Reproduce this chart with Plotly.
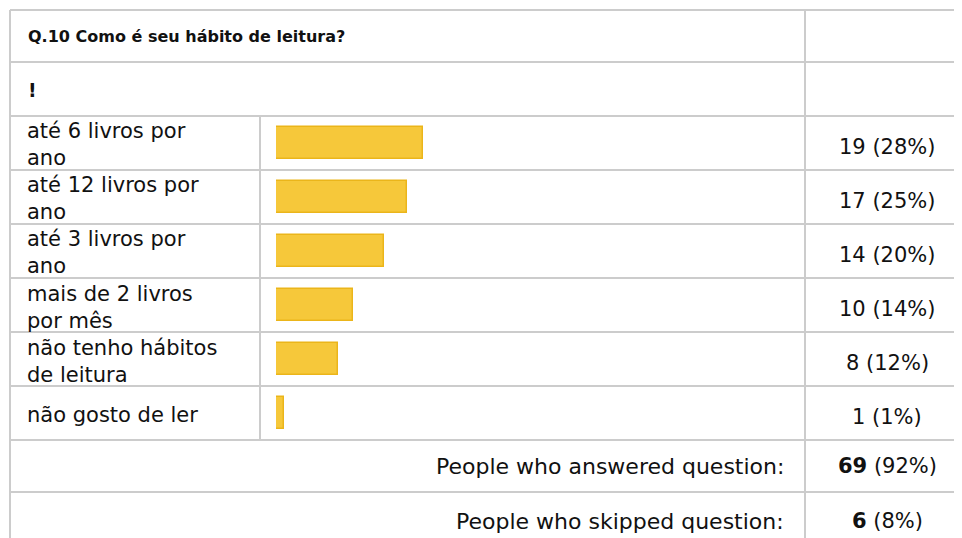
import textwrap
import plotly.graph_objects as go

# ---- data ----
title = "Q.10 Como é seu hábito de leitura?"
subtitle = "!"
categories = [
    "até 6 livros por ano",
    "até 12 livros por ano",
    "até 3 livros por ano",
    "mais de 2 livros por mês",
    "não tenho hábitos de leitura",
    "não gosto de ler",
]
counts = [19, 17, 14, 10, 8, 1]
percents = [28, 25, 20, 14, 12, 1]
answered_label = "People who answered question:"
answered_count = 69
answered_pct = 92
skipped_label = "People who skipped question:"
skipped_count = 6
skipped_pct = 8

# ---- layout helpers (page pixel -> paper); page body has an 8px margin ----
OFF = 8
W, H = 962 - OFF, 538 - OFF
def px(x):
    return (x - OFF) / W
def py(y):
    return 1 - (y - OFF) / H

FONT = "DejaVu Sans, Verdana, sans-serif"
GRID = "#CCCCCC"
TXT = "#111111"
FS = 21

row_top = 116
row_h = 54
n = len(categories)
rows_bottom = row_top + row_h * n

fig = go.Figure()
fig.add_trace(go.Bar(
    x=counts,
    y=categories,
    orientation="h",
    width=0.61,
    marker=dict(color="#F6C83A", line=dict(color="#EBB51A", width=1.5)),
    hoverinfo="skip",
    showlegend=False,
))

shapes = []
def hline(y, x0=10, x1=975):
    shapes.append(dict(type="line", xref="paper", yref="paper",
                       x0=px(x0), x1=px(x1), y0=py(y), y1=py(y),
                       line=dict(color=GRID, width=2), layer="below"))
def vline(x, y0, y1):
    shapes.append(dict(type="line", xref="paper", yref="paper",
                       x0=px(x), x1=px(x), y0=py(y0), y1=py(y1),
                       line=dict(color=GRID, width=2), layer="below"))

for y in [10, 62] + [row_top + row_h * i for i in range(n + 1)] + [492]:
    hline(y)
vline(10, 10, 545)
vline(805, 10, 545)
vline(260, row_top, rows_bottom)

annotations = []
annotations.append(dict(text="<b>" + title + "</b>", xref="paper", yref="paper",
                        x=px(26), y=py(37), xanchor="left", yanchor="middle",
                        showarrow=False, font=dict(family=FONT, size=16, color=TXT)))
annotations.append(dict(text="<b>" + subtitle + "</b>", xref="paper", yref="paper",
                        x=px(26), y=py(90), xanchor="left", yanchor="middle",
                        showarrow=False, font=dict(family=FONT, size=19, color=TXT)))
for cat, c, p in zip(categories, counts, percents):
    label = "<br>".join(textwrap.wrap(cat, 17))
    annotations.append(dict(text=label, xref="paper", yref="y",
                            x=px(25), y=cat, yshift=-2, xanchor="left", yanchor="middle",
                            align="left", showarrow=False,
                            font=dict(family=FONT, size=FS, color=TXT)))
    annotations.append(dict(text=f"{c} ({p}%)", xref="paper", yref="y",
                            x=px(887), y=cat, yshift=-4, xanchor="center",
                            yanchor="middle", showarrow=False,
                            font=dict(family=FONT, size=FS, color=TXT)))

for lab, cnt, pct, yc in [(answered_label, answered_count, answered_pct, 466),
                          (skipped_label, skipped_count, skipped_pct, 521)]:
    annotations.append(dict(text=lab, xref="paper", yref="paper",
                            x=px(786), y=py(yc), xanchor="right", yanchor="middle",
                            showarrow=False, font=dict(family=FONT, size=FS + 1, color=TXT)))
    annotations.append(dict(text=f"<b>{cnt}</b> ({pct}%)", xref="paper", yref="paper",
                            x=px(887), y=py(yc), xanchor="center", yanchor="middle",
                            showarrow=False, font=dict(family=FONT, size=FS, color=TXT)))

fig.update_layout(
    width=W, height=H,
    margin=dict(l=0, r=0, t=0, b=0),
    paper_bgcolor="white", plot_bgcolor="rgba(0,0,0,0)",
    shapes=shapes, annotations=annotations,
    bargap=0,
    xaxis=dict(domain=[px(276), px(809)], range=[0, answered_count],
               visible=False, fixedrange=True),
    yaxis=dict(domain=[py(rows_bottom), py(row_top)],
               range=[n - 0.5, -0.5], visible=False, fixedrange=True,
               categoryorder="array", categoryarray=categories),
)

fig.write_html("out.html")
